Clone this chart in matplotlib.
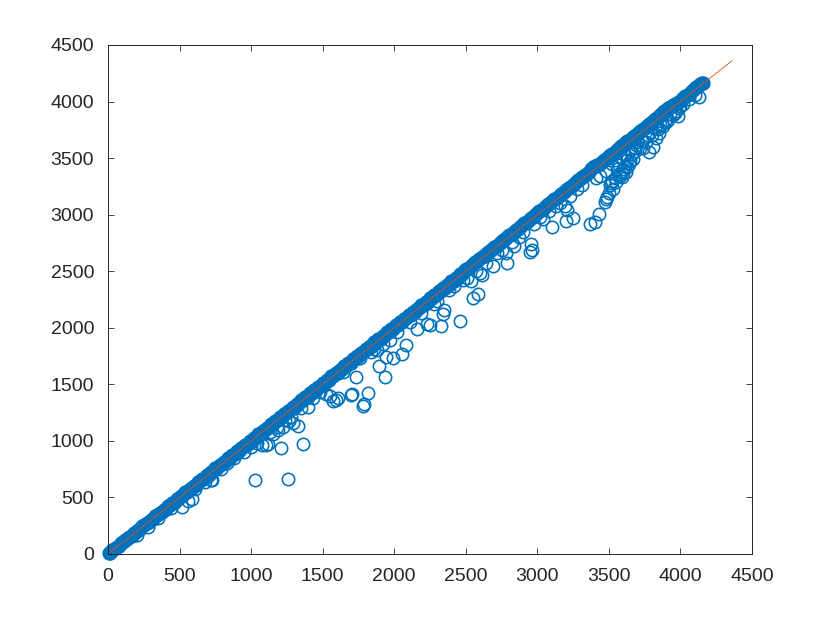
import numpy as np
from matplotlib import pyplot as plt

plt.rcParams['font.family'] = ['Liberation Sans', 'DejaVu Sans']

# Main band of points hugging the diagonal
band_x = [5, 15, 30, 45, 60, 75, 90, 105, 120, 135, 150, 165, 180, 195, 210, 225, 240, 255, 270, 285,
          300, 315, 330, 345, 360, 375, 390, 405, 420, 435, 450, 465, 480, 495, 510, 525, 540, 555, 570, 585,
          600, 615, 630, 645, 660, 675, 690, 705, 720, 735, 750, 765, 780, 795, 810, 825, 840, 855, 870, 885,
          900, 915, 930, 945, 960, 975, 990, 1005, 1020, 1035, 1050, 1065, 1080, 1095, 1110, 1125, 1140, 1155, 1170, 1185,
          1200, 1215, 1230, 1245, 1260, 1275, 1290, 1305, 1320, 1335, 1350, 1365, 1380, 1395, 1410, 1425, 1440, 1455, 1470, 1485,
          1500, 1515, 1530, 1545, 1560, 1575, 1590, 1605, 1620, 1635, 1650, 1665, 1680, 1695, 1710, 1725, 1740, 1755, 1770, 1785,
          1800, 1815, 1830, 1845, 1860, 1875, 1890, 1905, 1920, 1935, 1950, 1965, 1980, 1995, 2010, 2025, 2040, 2055, 2070, 2085,
          2100, 2115, 2130, 2145, 2160, 2175, 2190, 2205, 2220, 2235, 2250, 2265, 2280, 2295, 2310, 2325, 2340, 2355, 2370, 2385,
          2400, 2415, 2430, 2445, 2460, 2475, 2490, 2505, 2520, 2535, 2550, 2565, 2580, 2595, 2610, 2625, 2640, 2655, 2670, 2685,
          2700, 2715, 2730, 2745, 2760, 2775, 2790, 2805, 2820, 2835, 2850, 2865, 2880, 2895, 2910, 2925, 2940, 2955, 2970, 2985,
          3000, 3015, 3030, 3045, 3060, 3075, 3090, 3105, 3120, 3135, 3150, 3165, 3180, 3195, 3210, 3225, 3240, 3255, 3270, 3285,
          3300, 3315, 3330, 3345, 3360, 3375, 3390, 3405, 3420, 3435, 3450, 3465, 3480, 3495, 3510, 3525, 3540, 3555, 3570, 3585,
          3600, 3615, 3630, 3645, 3660, 3675, 3690, 3705, 3720, 3735, 3750, 3765, 3780, 3795, 3810, 3825, 3840, 3855, 3870, 3885,
          3900, 3915, 3930, 3945, 3960, 3975, 3990, 4005, 4020, 4035, 4050, 4065, 4080, 4095, 4110, 4125, 4140, 4150, 4160]
band_y = [8, 12, 33, 42, 63, 72, 93, 102, 123, 132, 153, 162, 183, 192, 213, 222, 243, 252, 273, 282,
          303, 312, 333, 342, 363, 372, 393, 402, 423, 432, 453, 462, 483, 492, 515, 522, 545, 552, 575, 582,
          605, 612, 637, 642, 667, 672, 697, 702, 727, 732, 757, 762, 787, 792, 817, 822, 847, 852, 877, 882,
          907, 912, 937, 942, 967, 972, 997, 1002, 1027, 1032, 1058, 1062, 1088, 1092, 1118, 1122, 1148, 1152, 1178, 1182,
          1208, 1212, 1238, 1242, 1268, 1272, 1298, 1302, 1328, 1332, 1360, 1362, 1390, 1392, 1420, 1422, 1450, 1452, 1480, 1482,
          1510, 1512, 1540, 1542, 1570, 1572, 1600, 1602, 1630, 1632, 1660, 1662, 1690, 1692, 1720, 1722, 1750, 1752, 1780, 1782,
          1810, 1812, 1840, 1842, 1870, 1872, 1900, 1902, 1930, 1932, 1960, 1962, 1990, 1992, 2020, 2022, 2050, 2052, 2080, 2082,
          2110, 2112, 2140, 2142, 2170, 2172, 2200, 2202, 2230, 2232, 2260, 2262, 2292, 2292, 2322, 2322, 2352, 2352, 2382, 2382,
          2412, 2412, 2442, 2442, 2472, 2472, 2502, 2517, 2532, 2547, 2562, 2577, 2592, 2607, 2622, 2637, 2652, 2667, 2682, 2697,
          2712, 2727, 2742, 2757, 2772, 2787, 2802, 2817, 2832, 2847, 2862, 2877, 2892, 2907, 2922, 2937, 2952, 2967, 2982, 2997,
          3015, 3030, 3045, 3060, 3075, 3090, 3105, 3120, 3135, 3150, 3165, 3180, 3195, 3210, 3225, 3240, 3255, 3270, 3288, 3303,
          3318, 3333, 3348, 3363, 3380, 3400, 3420, 3430, 3440, 3450, 3465, 3480, 3495, 3510, 3525, 3540, 3555, 3570, 3588, 3603,
          3618, 3633, 3648, 3663, 3678, 3693, 3708, 3723, 3738, 3753, 3768, 3783, 3798, 3813, 3828, 3843, 3860, 3880, 3895, 3915,
          3925, 3940, 3955, 3970, 3980, 3985, 4000, 4015, 4030, 4045, 4060, 4075, 4090, 4110, 4125, 4140, 4155, 4160, 4168]

# Points that fall below the diagonal
low_x = [1025, 1260, 1210, 1365, 1075, 1105, 1120, 1330, 1295, 1265, 1780, 1790, 1815, 1695, 1705, 1735,
         1525, 1550, 1575, 1595, 1610, 1895, 1935, 1945, 1990, 2055, 2085, 1880, 2160, 2230, 2250, 2330,
         2340, 2350, 2460, 2550, 2585, 2535, 2610, 2600, 2690, 2790, 2780, 2840, 2950, 2960, 2955, 3100,
         3040, 3200, 3250, 3210, 3195, 3370, 3400, 3430, 3470, 3480, 3500, 3510, 3525, 3530, 3540, 3570,
         3590, 3610, 3640, 3690, 3410, 3440, 3600, 3630, 3660, 3780, 3810, 3830, 3880, 3950, 3985, 4000,
         4130, 520, 590, 200, 280, 730, 720, 560, 830, 1000, 1150, 1190, 1220, 1400, 3620, 3560, 3570,
         3670, 3720, 3740, 3760, 3800, 3850, 3900, 3490, 3515, 3550, 3580, 3600, 3625, 3650, 3680]
low_y = [655, 660, 940, 970, 965, 965, 975, 1135, 1160, 1180, 1305, 1325, 1420, 1405, 1410, 1565,
         1410, 1400, 1350, 1365, 1375, 1665, 1565, 1740, 1735, 1770, 1845, 1800, 1985, 2030, 2020, 2015,
         2120, 2160, 2060, 2265, 2300, 2410, 2465, 2480, 2550, 2575, 2660, 2720, 2670, 2690, 2740, 2890,
         2960, 2940, 2970, 3040, 3080, 2915, 2935, 3010, 3110, 3140, 3190, 3260, 3300, 3225, 3320, 3360,
         3330, 3430, 3450, 3620, 3320, 3340, 3400, 3480, 3540, 3550, 3600, 3680, 3780, 3880, 3870, 3960,
         4040, 415, 490, 165, 240, 650, 655, 470, 800, 950, 1060, 1100, 1120, 1300, 3380, 3400, 3440,
         3490, 3590, 3590, 3640, 3700, 3720, 3820, 3160, 3280, 3290, 3340, 3370, 3420, 3470, 3560]

# Points just under the band, thickening its lower edge
fringe_x = [350, 440, 610, 680, 790, 880, 950, 1040, 1130, 1180, 1240, 1280, 1350, 1430, 1480, 1640, 1760,
            1840, 1860, 1920, 1970, 2020, 2110, 2190, 2280, 2300, 2380, 2420, 2480, 2510, 2570, 2640, 2720,
            2750, 2820, 2870, 2900, 2980, 3020, 3080, 3130, 3160, 3230, 3280, 3310, 3480, 3520, 3550, 3580,
            3610, 3650, 3680, 3700, 3730, 3770, 3790, 3820, 3840, 3860, 3870, 3890, 3910, 3930, 3960, 3970,
            3990, 4020, 4060, 4100]
fringe_y = [320, 410, 570, 640, 755, 845, 905, 985, 1075, 1120, 1185, 1215, 1290, 1380, 1430, 1605, 1730,
            1790, 1810, 1860, 1890, 1960, 2055, 2130, 2210, 2240, 2330, 2370, 2420, 2440, 2500, 2575, 2660,
            2690, 2760, 2800, 2850, 2920, 2975, 3030, 3075, 3100, 3165, 3230, 3260, 3390, 3445, 3480, 3510,
            3530, 3570, 3590, 3640, 3660, 3700, 3735, 3770, 3760, 3790, 3800, 3830, 3840, 3890, 3900, 3920,
            3940, 3980, 4020, 4060]

line_x = [0, 4360]
line_y = [0, 4360]
ticks = [0, 500, 1000, 1500, 2000, 2500, 3000, 3500, 4000, 4500]

blue = '#0072BD'
orange = '#D95319'
dark = '#262626'

fig = plt.figure(figsize=(8.3, 6.23), dpi=100)
ax = fig.add_axes([0.1301, 0.1108, 0.7759, 0.8170])

ax.plot(low_x, low_y, 'o', mfc='none', mec=blue, ms=8.9, mew=1.15, clip_on=False)
ax.plot(fringe_x, fringe_y, 'o', mfc='none', mec=blue, ms=8.9, mew=1.15, clip_on=False)
# band is thousands of overlapping rings in the original, heavier edge fills it in
ax.plot(band_x, band_y, 'o', mfc='none', mec=blue, ms=7.7, mew=2.6, clip_on=False)
ax.plot(line_x, line_y, color=orange, lw=0.6)

ax.set_xlim(0, 4500)
ax.set_ylim(0, 4500)
ax.set_xticks(ticks)
ax.set_yticks(ticks)
ax.tick_params(direction='in', top=True, right=True, length=4.5, width=0.6,
               color=dark, labelcolor=dark, labelsize=14)
ax.tick_params(axis='x', pad=10)
ax.tick_params(axis='y', pad=10)
for spine in ax.spines.values():
    spine.set_linewidth(0.7)
    spine.set_color(dark)

plt.savefig('out.png', dpi=100)
